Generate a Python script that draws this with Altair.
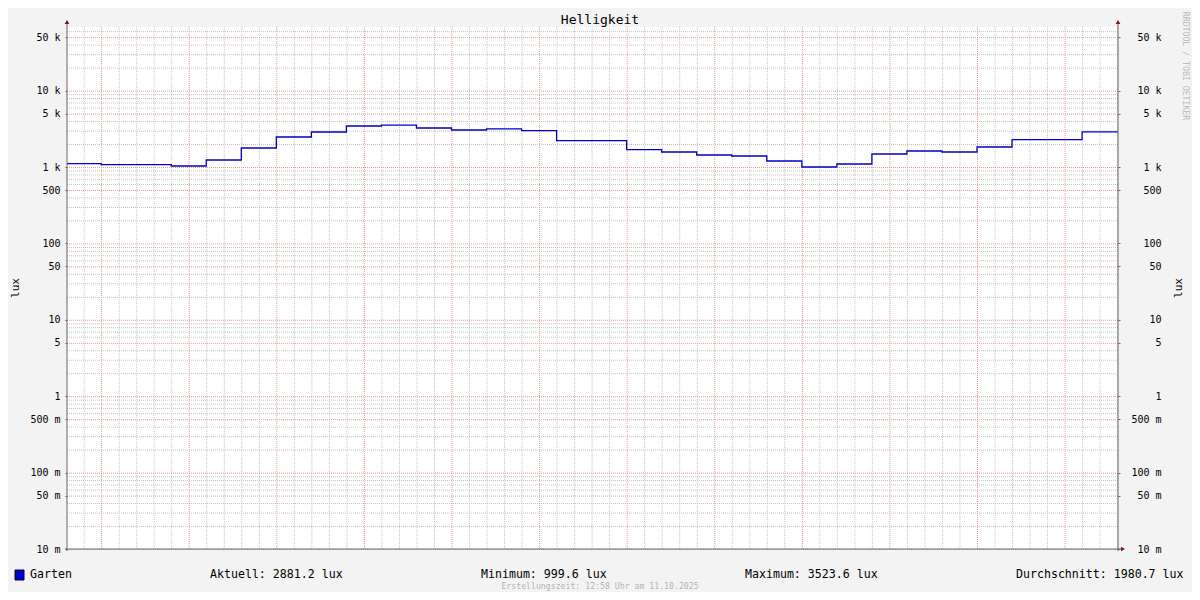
import altair as alt
import pandas as pd

# ---------------- data ----------------
DATUM = "2025-10-11"
step_start = ["11:58", "12:00", "12:02", "12:04", "12:06", "12:08", "12:10", "12:12",
              "12:14", "12:16", "12:18", "12:20", "12:22", "12:24", "12:26", "12:28",
              "12:30", "12:32", "12:34", "12:36", "12:38", "12:40", "12:42", "12:44",
              "12:46", "12:48", "12:50", "12:52", "12:54", "12:56"]
lux = [1105, 1072, 1072, 1030, 1235, 1774, 2470, 2870,
       3440, 3523.6, 3240, 3050, 3150, 2990, 2210, 2210,
       1685, 1572, 1436, 1393, 1198, 999.6, 1095, 1480,
       1620, 1572, 1828, 2280, 2280, 2881.2]
window_start = "11:58:03"
window_end = "12:58:03"

y_ticks = [0.01, 0.05, 0.1, 0.5, 1, 5, 10, 50, 100, 500, 1000, 5000, 10000, 50000]
NB = "\u00a0\u00a0"
y_tick_labels = ["10 m", "50 m", "100 m", "500 m", "1" + NB, "5" + NB, "10" + NB, "50" + NB,
                 "100" + NB, "500" + NB, "1 k", "5 k", "10 k", "50 k"]
y_domain = [0.01, 68000]

x_ticks = ["12:00", "12:05", "12:10", "12:15", "12:20", "12:25",
           "12:30", "12:35", "12:40", "12:45", "12:50", "12:55"]
minor_minutes = ["11:59", "12:01", "12:02", "12:03", "12:04", "12:06", "12:07", "12:08", "12:09",
                 "12:11", "12:12", "12:13", "12:14", "12:16", "12:17", "12:18", "12:19",
                 "12:21", "12:22", "12:23", "12:24", "12:26", "12:27", "12:28", "12:29",
                 "12:31", "12:32", "12:33", "12:34", "12:36", "12:37", "12:38", "12:39",
                 "12:41", "12:42", "12:43", "12:44", "12:46", "12:47", "12:48", "12:49",
                 "12:51", "12:52", "12:53", "12:54", "12:56", "12:57", "12:58"]
minor_y = [k * 10.0 ** n for n in range(-2, 5) for k in (2, 3, 4, 6, 7, 8, 9) if k * 10.0 ** n <= 68000]

title_text = "Helligkeit"
unit_text = "lux"
series_name = "Garten"
stats = ["Aktuell: 2881.2 lux", "Minimum: 999.6 lux", "Maximum: 3523.6 lux", "Durchschnitt: 1980.7 lux"]
footer = "Erstellungszeit: 12:58 Uhr am 11.10.2025"
watermark = "RRDTOOL / TOBI OETIKER"


def iso(hm):
    if hm.count(":") == 1:
        hm += ":00"
    return f"{DATUM}T{hm}Z"


def dt(hm):
    p = [int(v) for v in hm.split(":")] + [0]
    return alt.DateTime(year=2025, month=10, date=11, hours=p[0], minutes=p[1], seconds=p[2], utc=True)


df = pd.DataFrame({"zeit": [iso(t) for t in step_start] + [iso(window_end)],
                   "lux": lux + [lux[-1]]})
major_y_df = pd.DataFrame({"lux": y_ticks})
minor_y_df = pd.DataFrame({"lux": minor_y})
major_x_df = pd.DataFrame({"zeit": [iso(t) for t in x_ticks]})
minor_x_df = pd.DataFrame({"zeit": [iso(t) for t in minor_minutes]})
one = pd.DataFrame({"a": [0]})

FONT = "DejaVu Sans Mono"
W, H = 1051, 522

x_scale = alt.Scale(type="utc", domain=[dt(window_start), dt(window_end)])
y_scale = alt.Scale(type="log", domain=y_domain)

label_expr = " : ".join(
    f"abs(datum.value - {v}) < {v * 1e-6} ? '{l}'" for v, l in zip(y_ticks, y_tick_labels)
) + " : ''"

x_axis = alt.Axis(values=[dt(t) for t in x_ticks], format="%H:%M", title=None, grid=False,
                  domain=False, tickSize=3, tickColor="#666666", labelPadding=2,
                  labelFont=FONT, labelFontSize=10, labelColor="#000000")
y_axis_left = alt.Axis(values=y_ticks, labelExpr=label_expr, title=None, grid=False, domain=False,
                       orient="left", tickSize=2, tickColor="#666666", labelPadding=5,
                       labelFont=FONT, labelFontSize=10, labelColor="#000000")
y_axis_right = alt.Axis(values=y_ticks, labelExpr=label_expr, title=None, grid=False, domain=False,
                        orient="right", tickSize=2, tickColor="#666666", labelPadding=41,
                        labelAlign="right",
                        labelFont=FONT, labelFontSize=10, labelColor="#000000")

GRID_MINOR = "#c4c4c4"
GRID_MAJOR = "#e59a9a"

minor_h = alt.Chart(minor_y_df).mark_rule(color=GRID_MINOR, strokeDash=[1, 1], strokeWidth=1, yOffset=0.5).encode(
    y=alt.Y("lux:Q", scale=y_scale, axis=None))
minor_v = alt.Chart(minor_x_df).mark_rule(color=GRID_MINOR, strokeDash=[1, 1], strokeWidth=1, xOffset=0.5).encode(
    x=alt.X("zeit:T", scale=x_scale, axis=None))
major_v = alt.Chart(major_x_df).mark_rule(color=GRID_MAJOR, strokeDash=[1, 1], strokeWidth=1, xOffset=0.5).encode(
    x=alt.X("zeit:T", scale=x_scale, axis=None))
major_h = alt.Chart(major_y_df).mark_rule(color=GRID_MAJOR, strokeDash=[1, 1], strokeWidth=1, yOffset=0.5).encode(
    y=alt.Y("lux:Q", scale=y_scale, axis=y_axis_right))

line = alt.Chart(df).mark_line(interpolate="step-after", color="#0000c8", strokeWidth=1.3, clip=True).encode(
    x=alt.X("zeit:T", scale=x_scale, axis=x_axis),
    y=alt.Y("lux:Q", scale=y_scale, axis=y_axis_left),
)

AX = "#666666"
left_line = alt.Chart(one).mark_rule(color=AX, strokeWidth=1).encode(
    x=alt.value(0), y=alt.value(-6), y2=alt.value(H + 2))
right_line = alt.Chart(one).mark_rule(color=AX, strokeWidth=1).encode(
    x=alt.value(W), y=alt.value(-6), y2=alt.value(H + 2))
bottom_line = alt.Chart(one).mark_rule(color=AX, strokeWidth=1).encode(
    x=alt.value(-2), x2=alt.value(W + 4), y=alt.value(H))

ARROW = "#8b1010"
arrow_l = alt.Chart(one).mark_point(shape="triangle-up", filled=True, size=22, color=ARROW, opacity=1).encode(
    x=alt.value(0), y=alt.value(-5))
arrow_r = alt.Chart(one).mark_point(shape="triangle-up", filled=True, size=22, color=ARROW, opacity=1).encode(
    x=alt.value(W), y=alt.value(-5))
arrow_b = alt.Chart(one).mark_point(shape="triangle-right", filled=True, size=22, color=ARROW, opacity=1).encode(
    x=alt.value(W + 5), y=alt.value(H))


def txt(s, x, y, size=11.6, color="#000000", align="left", angle=0):
    return alt.Chart(pd.DataFrame({"t": [s]})).mark_text(
        font=FONT, fontSize=size, color=color, align=align, baseline="middle", angle=angle
    ).encode(text="t:N", x=alt.value(x), y=alt.value(y))


title_m = txt(title_text, 533, -7, size=13, align="center")
lux_l = txt(unit_text, -51, 261, size=11, align="center", angle=270)
lux_r = txt(unit_text, 1112, 261, size=11, align="center", angle=270)
legend_sq = alt.Chart(one).mark_rect(color="#0000c8", stroke="#000033", strokeWidth=1).encode(
    x=alt.value(-52), x2=alt.value(-43), y=alt.value(543), y2=alt.value(553))
legend_name = txt(series_name, -37, 548)
s1 = txt(stats[0], 143, 548)
s2 = txt(stats[1], 414, 548)
s3 = txt(stats[2], 678, 548)
s4 = txt(stats[3], 949, 548)
foot = txt(footer, 533, 560, size=8.2, color="#b4b4b4", align="center")
wm = txt(watermark, 1118, 39, size=8.2, color="#bbbbbb", align="center", angle=90)

chart = alt.layer(
    minor_h, minor_v, major_v, major_h, line,
    left_line, right_line, bottom_line, arrow_l, arrow_r, arrow_b,
    title_m, lux_l, lux_r, legend_sq, legend_name, s1, s2, s3, s4, foot, wm,
).resolve_axis(y="independent").properties(
    width=W, height=H,
    autosize=alt.AutoSizeParams(type="none"),
    padding={"left": 59, "top": 19, "right": 74, "bottom": 43},
    background="#f3f3f3",
).configure_view(stroke=None, fill="#ffffff")

chart.save("out.html", embed_options={"renderer": "svg", "actions": False})
